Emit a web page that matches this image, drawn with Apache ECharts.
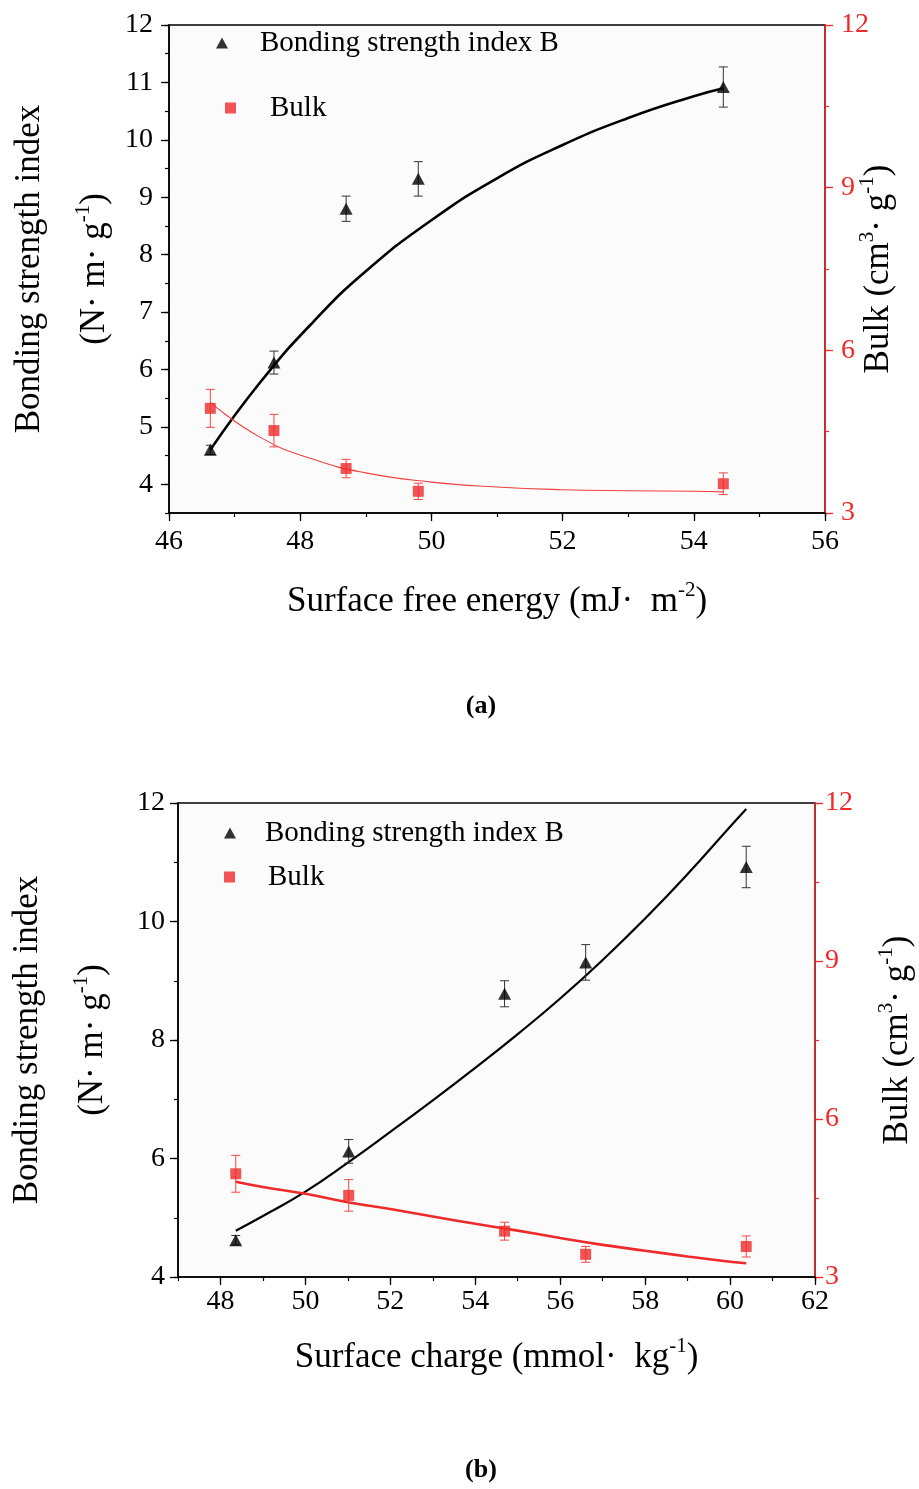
<!DOCTYPE html>
<html>
<head>
<meta charset="utf-8">
<script src="https://cdn.jsdelivr.net/npm/echarts@6/dist/echarts.min.js"></script>
<style>
html,body{margin:0;padding:0;background:#fff;}
#c{width:919px;height:1489px;}
</style>
</head>
<body>
<div id="c"></div>
<script>
// ---- Panel (a): surface free energy ----
const xA = [46.63, 47.6, 48.7, 49.8, 54.45];
const bondA = [4.6, 6.12, 8.8, 9.32, 10.92];
const bondErrA = [0.08, 0.2, 0.22, 0.3, 0.35];
const bulkA = [4.93, 4.52, 3.82, 3.4, 3.54];
const bulkErrA = [0.35, 0.3, 0.17, 0.15, 0.2];
const fitXA = [46.63, 47.4, 48.2, 49, 50, 51, 52, 53, 54, 54.45];
const bondFitA = [4.6, 5.79, 6.83, 7.71, 8.6, 9.33, 9.91, 10.38, 10.76, 10.9];
const bulkFitA = [5.04, 4.39, 3.99, 3.74, 3.57, 3.48, 3.43, 3.41, 3.4, 3.39];

// ---- Panel (b): surface charge ----
const xB = [48.36, 51.02, 54.69, 56.6, 60.38];
const bondB = [4.62, 6.12, 8.78, 9.31, 10.92];
const bondErrB = [0.08, 0.2, 0.22, 0.3, 0.35];
const bulkB = [4.96, 4.55, 3.87, 3.43, 3.58];
const bulkErrB = [0.35, 0.3, 0.17, 0.15, 0.2];
const fitXB = [48.36, 49, 50, 51, 52, 53, 54, 55, 56, 57, 58, 59, 60, 60.38];
const bondFitB = [4.78, 5.03, 5.44, 5.93, 6.45, 6.98, 7.53, 8.1, 8.7, 9.35, 10.05, 10.8, 11.6, 11.9];
const bulkFitB = [4.81, 4.71, 4.58, 4.42, 4.29, 4.15, 4.01, 3.88, 3.74, 3.61, 3.5, 3.39, 3.29, 3.26];

// ---- tick labels ----
const xTicksA = [46, 48, 50, 52, 54, 56];
const yLeftTicksA = [4, 5, 6, 7, 8, 9, 10, 11, 12];
const yRightTicks = [3, 6, 9, 12];
const xTicksB = [48, 50, 52, 54, 56, 58, 60, 62];
const yLeftTicksB = [4, 6, 8, 10, 12];

const RED = '#ee2a2a';
const FONT = 'Liberation Serif';

const pairs = (xs, ys) => xs.map((x, i) => [x, ys[i]]);
const errs = (xs, ys, es) => xs.map((x, i) => [x, ys[i] - es[i], ys[i] + es[i]]);

function errRender(color) {
  return function (params, api) {
    const x = api.value(0), lo = api.value(1), hi = api.value(2);
    const p1 = api.coord([x, hi]);
    const p2 = api.coord([x, lo]);
    const w = 4.5;
    const st = { stroke: color, lineWidth: 1 };
    return {
      type: 'group',
      children: [
        { type: 'line', shape: { x1: p1[0], y1: p1[1], x2: p2[0], y2: p2[1] }, style: st },
        { type: 'line', shape: { x1: p1[0] - w, y1: p1[1], x2: p1[0] + w, y2: p1[1] }, style: st },
        { type: 'line', shape: { x1: p2[0] - w, y1: p2[1], x2: p2[0] + w, y2: p2[1] }, style: st }
      ]
    };
  };
}

const nameRich = {
  a: { fontFamily: FONT, fontSize: 35, lineHeight: 44, color: '#000' },
  b: { fontFamily: FONT, fontSize: 35, lineHeight: 86, color: '#000' },
  s: { fontFamily: FONT, fontSize: 21, lineHeight: 21, verticalAlign: 'top', color: '#000' }
};

function xAxisDef(grid, min, max, interval, ticks, name, gap, margin) {
  return {
    type: 'value', gridIndex: grid, position: 'bottom', min: min, max: max, interval: interval,
    axisLine: { show: true, onZero: false, lineStyle: { color: '#000', width: 1.5 } },
    axisTick: { show: true, inside: false, length: 8, customValues: ticks, lineStyle: { color: '#000', width: 1.3 } },
    axisLabel: { customValues: ticks, fontFamily: FONT, fontSize: 28, color: '#000', margin: margin },
    splitLine: { show: false },
    name: name, nameLocation: 'middle', nameGap: gap, nameMoveOverlap: false,
    nameTextStyle: { rich: nameRich }
  };
}
function yLeftDef(grid, min, max, interval, ticks, name, gap, margin) {
  return {
    type: 'value', gridIndex: grid, position: 'left', min: min, max: max, interval: interval,
    axisLine: { show: true, onZero: false, lineStyle: { color: '#000', width: 1.5 } },
    axisTick: { show: true, inside: false, length: 8, customValues: ticks, lineStyle: { color: '#000', width: 1.3 } },
    axisLabel: { customValues: ticks, fontFamily: FONT, fontSize: 28, color: '#000', margin: margin },
    splitLine: { show: false },
    name: name, nameLocation: 'middle', nameRotate: 90, nameGap: gap, nameMoveOverlap: false,
    nameTextStyle: { rich: nameRich }
  };
}
function yRightDef(grid, name, gap, margin) {
  return {
    type: 'value', gridIndex: grid, position: 'right', min: 3, max: 12, interval: 1.5,
    axisLine: { show: true, onZero: false, lineStyle: { color: RED, width: 1.5 } },
    axisTick: { show: true, inside: false, length: 8, customValues: yRightTicks, lineStyle: { color: RED, width: 1.3 } },
    axisLabel: { customValues: yRightTicks, fontFamily: FONT, fontSize: 28, color: RED, margin: margin },
    splitLine: { show: false },
    name: name, nameLocation: 'middle', nameRotate: 90, nameGap: gap, nameMoveOverlap: false,
    nameTextStyle: { rich: nameRich }
  };
}
// overlay axes that only draw the short minor ticks
function minorAxis(grid, position, min, max, interval, color) {
  return {
    type: 'value', gridIndex: grid, position: position, min: min, max: max, interval: interval,
    axisLine: { show: false, onZero: false },
    axisTick: { show: true, inside: false, length: 4, lineStyle: { color: color, width: 1.2 } },
    axisLabel: { show: false },
    splitLine: { show: false },
    silent: true
  };
}

function legendItem(name, icon, left, top, w, h, pad) {
  return {
    left: left, top: top, orient: 'vertical', itemWidth: w, itemHeight: h,
    data: [{ name: name, icon: icon }], selectedMode: false,
    textStyle: { fontFamily: FONT, fontSize: 29, color: '#000', lineHeight: 30, padding: [0, 0, 0, pad] }
  };
}

const chart = echarts.init(document.getElementById('c'), null, { renderer: 'canvas' });
const option = {
  animation: false,
  backgroundColor: '#fff',
  grid: [
    { left: 169, top: 25, width: 656, height: 488, outerBoundsMode: 'none', containLabel: false, show: true, borderColor: '#000', borderWidth: 1.5, backgroundColor: '#fbfbfb' },
    { left: 178, top: 803, width: 637, height: 474, outerBoundsMode: 'none', containLabel: false, show: true, borderColor: '#000', borderWidth: 1.5, backgroundColor: '#fbfbfb' }
  ],
  legend: [
    legendItem('Bonding strength index B', 'triangle', 211, 23, 12, 11, 27),
    legendItem('Bulk', 'rect', 220, 88, 11, 11, 29),
    legendItem('Bonding strength index B', 'triangle', 219, 813, 12, 11, 24),
    legendItem('Bulk', 'rect', 219, 857, 11, 11, 28)
  ],
  xAxis: [
    xAxisDef(0, 46, 56, 1, xTicksA, '{a|Surface free energy (mJ·  m}{s|-2}{a|)}', 67, 15),
    xAxisDef(1, 47, 62, 1, xTicksB, '{a|Surface charge (mmol·  kg}{s|-1}{a|)}', 59, 11),
    minorAxis(0, 'bottom', 46, 56, 1, '#000'),
    minorAxis(1, 'bottom', 47, 62, 1, '#000')
  ],
  yAxis: [
    yLeftDef(0, 3.5, 12, 0.5, yLeftTicksA, '{b|Bonding strength index}\n{a|(N· m· g}{s|-1}{a|)}', 52, 16),
    yRightDef(0, '{a|Bulk (cm}{s|3}{a|· g}{s|-1}{a|)}', 32, 16),
    yLeftDef(1, 4, 12, 1, yLeftTicksB, '{b|Bonding strength index}\n{a|(N· m· g}{s|-1}{a|)}', 63, 13),
    yRightDef(1, '{a|Bulk (cm}{s|3}{a|· g}{s|-1}{a|)}', 61, 10),
    minorAxis(0, 'left', 3.5, 12, 0.5, '#000'),
    minorAxis(0, 'right', 3, 12, 1.5, RED),
    minorAxis(1, 'left', 4, 12, 1, '#000'),
    minorAxis(1, 'right', 3, 12, 1.5, RED)
  ],
  graphic: [
    { type: 'text', x: 481, y: 706, style: { text: '(a)', font: 'bold 26px "Liberation Serif"', fill: '#000', align: 'center', verticalAlign: 'middle' } },
    { type: 'text', x: 481, y: 1470, style: { text: '(b)', font: 'bold 26px "Liberation Serif"', fill: '#000', align: 'center', verticalAlign: 'middle' } }
  ],
  series: [
    // panel a
    { name: 'B fit (a)', type: 'line', xAxisIndex: 0, yAxisIndex: 0, data: pairs(fitXA, bondFitA), smooth: true, showSymbol: false, symbol: 'none', lineStyle: { color: '#000', width: 2.6 }, silent: true, z: 3 },
    { name: 'Bulk fit (a)', type: 'line', xAxisIndex: 0, yAxisIndex: 1, data: pairs(fitXA, bulkFitA), smooth: true, showSymbol: false, symbol: 'none', lineStyle: { color: '#f04040', width: 1.1 }, silent: true, z: 3 },
    { name: 'B error (a)', type: 'custom', xAxisIndex: 0, yAxisIndex: 0, data: errs(xA, bondA, bondErrA), encode: { x: 0, y: [1, 2] }, renderItem: errRender('#333'), z: 4 },
    { name: 'Bulk error (a)', type: 'custom', xAxisIndex: 0, yAxisIndex: 1, data: errs(xA, bulkA, bulkErrA), encode: { x: 0, y: [1, 2] }, renderItem: errRender('#f04848'), z: 4 },
    { name: 'Bonding strength index B', type: 'scatter', xAxisIndex: 0, yAxisIndex: 0, data: pairs(xA, bondA), symbol: 'triangle', symbolSize: [13, 12], itemStyle: { color: '#000' }, z: 5 },
    { name: 'Bulk', type: 'scatter', xAxisIndex: 0, yAxisIndex: 1, data: pairs(xA, bulkA), symbol: 'rect', symbolSize: [11, 11], itemStyle: { color: RED }, z: 5 },
    // panel b
    { name: 'B fit (b)', type: 'line', xAxisIndex: 1, yAxisIndex: 2, data: pairs(fitXB, bondFitB), smooth: true, showSymbol: false, symbol: 'none', lineStyle: { color: '#000', width: 2.2 }, silent: true, z: 3 },
    { name: 'Bulk fit (b)', type: 'line', xAxisIndex: 1, yAxisIndex: 3, data: pairs(fitXB, bulkFitB), smooth: true, showSymbol: false, symbol: 'none', lineStyle: { color: RED, width: 2.6 }, silent: true, z: 3 },
    { name: 'B error (b)', type: 'custom', xAxisIndex: 1, yAxisIndex: 2, data: errs(xB, bondB, bondErrB), encode: { x: 0, y: [1, 2] }, renderItem: errRender('#333'), z: 4 },
    { name: 'Bulk error (b)', type: 'custom', xAxisIndex: 1, yAxisIndex: 3, data: errs(xB, bulkB, bulkErrB), encode: { x: 0, y: [1, 2] }, renderItem: errRender('#f04848'), z: 4 },
    { name: 'Bonding strength index B', type: 'scatter', xAxisIndex: 1, yAxisIndex: 2, data: pairs(xB, bondB), symbol: 'triangle', symbolSize: [13, 12], itemStyle: { color: '#000' }, z: 5 },
    { name: 'Bulk', type: 'scatter', xAxisIndex: 1, yAxisIndex: 3, data: pairs(xB, bulkB), symbol: 'rect', symbolSize: [11, 11], itemStyle: { color: RED }, z: 5 }
  ]
};
chart.setOption(option);
</script>
</body>
</html>
